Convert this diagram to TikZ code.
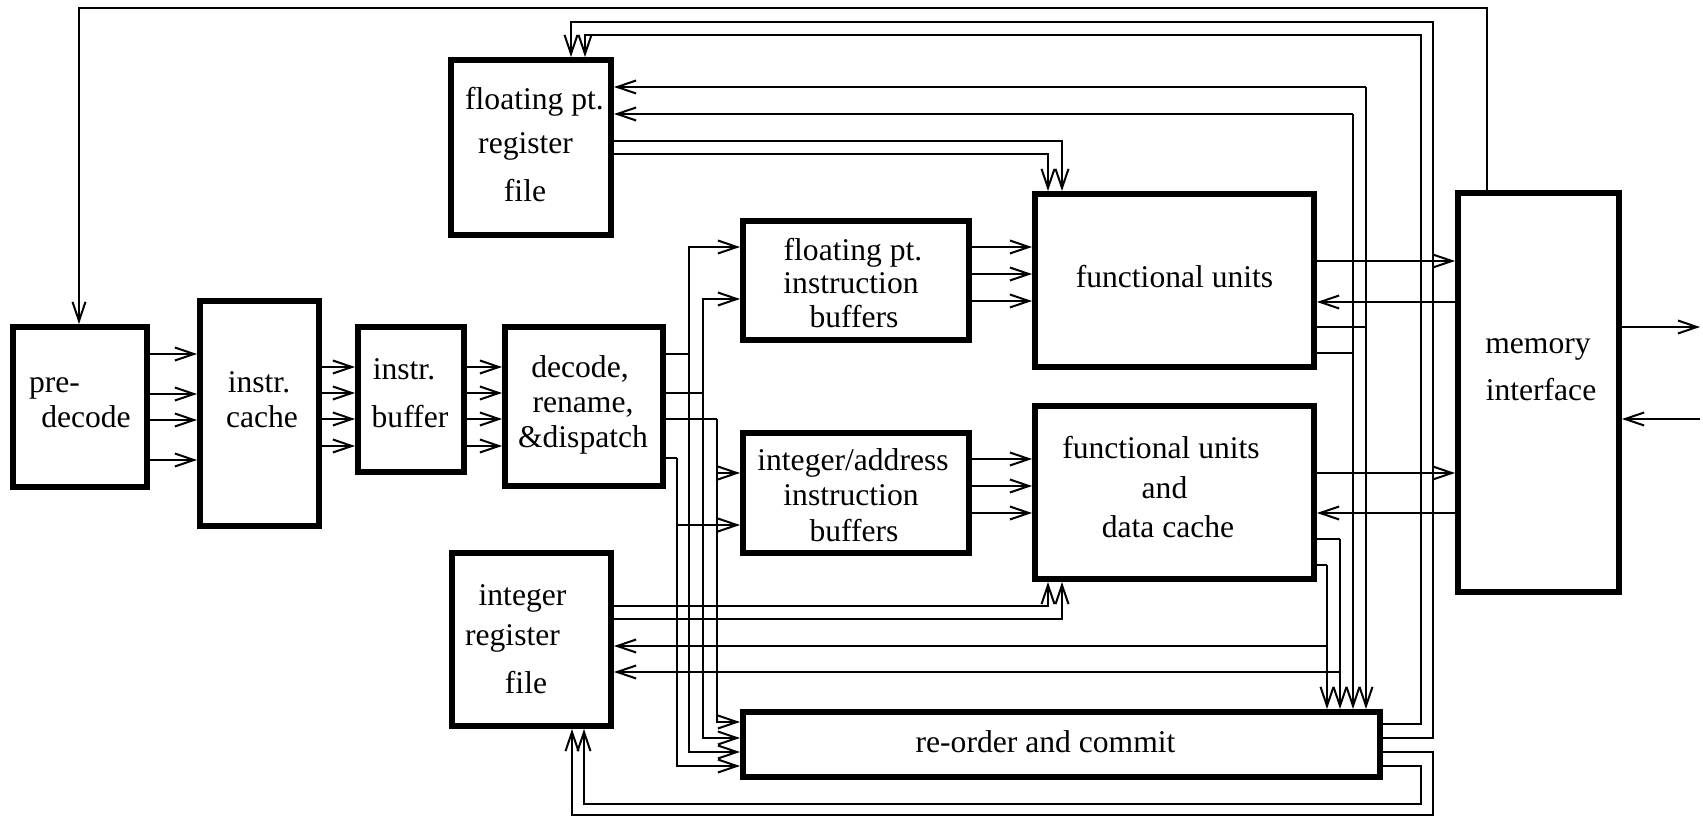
\documentclass[tikz,border=0pt]{standalone}
\usepackage{fontspec}
\setmainfont{Liberation Serif}
\usetikzlibrary{arrows.meta}
\begin{document}
\begin{tikzpicture}[x=0.5pt,y=-0.5pt,line width=1pt,
  blk/.style={draw,line width=3pt,rectangle,inner sep=0pt},
  lbl/.style={inner sep=0pt,anchor=base,font=\fontsize{15.8}{19}\selectfont},
  >={Straight Barb[length=9.5pt,width=6.5pt]}]
\useasboundingbox (0,0) rectangle (1703,817);
% blocks
\node[blk,minimum width=67pt,minimum height=80pt] (pre) at (80,407) {};
\node[blk,minimum width=59.5pt,minimum height=112.5pt] (cache) at (259.5,413.5) {};
\node[blk,minimum width=53pt,minimum height=72.5pt] (buf) at (411,399.5) {};
\node[blk,minimum width=79pt,minimum height=79.5pt] (dec) at (584,406.5) {};
\node[blk,minimum width=80pt,minimum height=87.5pt] (fpr) at (531,147.5) {};
\node[blk,minimum width=113pt,minimum height=59.5pt] (fpb) at (856,280.5) {};
\node[blk,minimum width=113pt,minimum height=60pt] (ib) at (856,493) {};
\node[blk,minimum width=139.5pt,minimum height=86.5pt] (fu) at (1174.5,280.5) {};
\node[blk,minimum width=139.5pt,minimum height=86.5pt] (fudc) at (1174.5,492.5) {};
\node[blk,minimum width=80.5pt,minimum height=199.5pt] (mem) at (1538.5,392.5) {};
\node[blk,minimum width=79.5pt,minimum height=86.5pt] (ir) at (531.5,639.5) {};
\node[blk,minimum width=318.5pt,minimum height=32.5pt] (ro) at (1061.5,744.5) {};
% labels
\node[lbl,anchor=base west] (tpre1) at (28,393) {pre-};
\node[lbl] (tpre2) at (86,428) {decode};
\node[lbl] (tc1) at (259,393) {instr.};
\node[lbl] (tc2) at (262,428) {cache};
\node[lbl] (tb1) at (404,380) {instr.};
\node[lbl] (tb2) at (410,428) {buffer};
\node[lbl] (td1) at (580,378) {decode,};
\node[lbl] (td2) at (583,413) {rename,};
\node[lbl] (td3) at (583,448) {\&dispatch};
\node[lbl] (tfr1) at (534.5,110) {floating pt.};
\node[lbl] (tfr2) at (525.6,154) {register};
\node[lbl] (tfr3) at (525,202) {file};
\node[lbl] (tfb1) at (853,261) {floating pt.};
\node[lbl] (tfb2) at (851,294) {instruction};
\node[lbl] (tfb3) at (854,328) {buffers};
\node[lbl] (tib1) at (853,471) {integer/address};
\node[lbl] (tib2) at (851,506) {instruction};
\node[lbl] (tib3) at (854,542) {buffers};
\node[lbl] (tir1) at (522.5,606) {integer};
\node[lbl] (tir2) at (512.5,646) {register};
\node[lbl] (tir3) at (526,693) {file};
\node[lbl] (tfu) at (1174.5,288) {functional units};
\node[lbl] (tfd1) at (1161,459) {functional units};
\node[lbl] (tfd2) at (1164.5,499) {and};
\node[lbl] (tfd3) at (1168,538) {data cache};
\node[lbl] (tm1) at (1538,354) {memory};
\node[lbl] (tm2) at (1541,401) {interface};
\node[lbl] (tro) at (1045.5,752) {re-order and commit};
% top feedback
\draw[->] (mem.north -| 1487,0) |- (79,8) -- (pre.north -| 79,0);
% front end
\foreach \yy in {354,394,420,460} \draw[->] (pre.east |- 0,\yy) -- (cache.west |- 0,\yy);
\foreach \yy in {367,393,419,446} {
  \draw[->] (cache.east |- 0,\yy) -- (buf.west |- 0,\yy);
  \draw[->] (buf.east |- 0,\yy) -- (dec.west |- 0,\yy);
}
% decode outputs
\coordinate (da) at (689,354);
\coordinate (db) at (703,393);
\coordinate (dc) at (717,419);
\coordinate (dd) at (677,458);
\draw (dec.east |- da) -- (da);
\draw[->] (da) |- (fpb.west |- 0,247);
\draw[->] (da) |- (ro.west |- 0,752);
\draw (dec.east |- db) -- (db);
\draw[->] (db) |- (fpb.west |- 0,299);
\draw[->] (db) |- (ro.west |- 0,738);
\draw (dec.east |- dc) -- (dc);
\draw[->] (dc) |- (ib.west |- 0,473);
\draw[->] (dc) |- (ro.west |- 0,722);
\draw (dec.east |- dd) -- (dd);
\draw[->] (dd) |- (ib.west |- 0,525);
\draw[->] (dd) |- (ro.west |- 0,766);
% buffers to functional units
\foreach \yy in {247,274,301} \draw[->] (fpb.east |- 0,\yy) -- (fu.west |- 0,\yy);
\foreach \yy in {459,486,513} \draw[->] (ib.east |- 0,\yy) -- (fudc.west |- 0,\yy);
% register files to functional units
\draw[->] (fpr.east |- 0,141) -| (fu.north -| 1062,0);
\draw[->] (fpr.east |- 0,154) -| (fu.north -| 1048,0);
\draw[->] (ir.east |- 0,606) -| (fudc.south -| 1048,0);
\draw[->] (ir.east |- 0,619) -| (fudc.south -| 1062,0);
% results
\coordinate (ra) at (1366,87);
\coordinate (rb) at (1353,114);
\draw[->] (ra) -- (fpr.east |- ra);
\draw[->] (ra) -- (ro.north -| ra);
\draw (fu.east |- 0,327) -- (1366,327);
\draw[->] (rb) -- (fpr.east |- rb);
\draw[->] (rb) -- (ro.north -| rb);
\draw (fu.east |- 0,353) -- (1353,353);
\coordinate (rc) at (1340,539);
\coordinate (rd) at (1327,565);
\coordinate (rcb) at (1340,672);
\coordinate (rdb) at (1327,646);
\draw (fudc.east |- rc) -- (rc);
\draw[->] (rc) -- (ro.north -| rc);
\draw[->] (rcb) -- (ir.east |- rcb);
\draw (fudc.east |- rd) -- (rd);
\draw[->] (rd) -- (ro.north -| rd);
\draw[->] (rdb) -- (ir.east |- rdb);
% functional units <-> memory
\draw[->] (fu.east |- 0,261) -- (mem.west |- 0,261);
\draw[->] (mem.west |- 0,302) -- (fu.east |- 0,302);
\draw[->] (fudc.east |- 0,473) -- (mem.west |- 0,473);
\draw[->] (mem.west |- 0,513) -- (fudc.east |- 0,513);
% commit outputs
\draw[->] (ro.east |- 0,724) -| (1421,35) -| (fpr.north -| 585,0);
\draw[->] (ro.east |- 0,738) -| (1433,22) -| (fpr.north -| 571,0);
\draw[->] (ro.east |- 0,752) -| (1433,815) -| (ir.south -| 572,0);
\draw[->] (ro.east |- 0,766) -| (1421,804) -| (ir.south -| 584,0);
% memory external
\coordinate (mo) at (1700,327);
\coordinate (mi) at (1700,419);
\draw[->] (mem.east |- mo) -- (mo);
\draw[->] (mi) -- (mem.east |- mi);
\end{tikzpicture}
\end{document}
